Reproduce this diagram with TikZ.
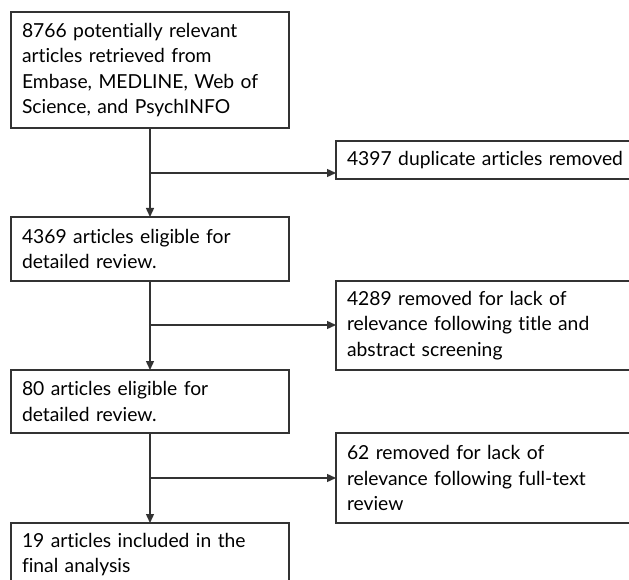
\documentclass[tikz,border=0pt]{standalone}
\usepackage{fontspec}
\setmainfont{Lato}[Ligatures=NoCommon]
\usetikzlibrary{arrows.meta}
\begin{document}
\begin{tikzpicture}[x=1pt,y=-1pt,
  box/.style={draw=black!80, line width=1.2pt, anchor=north west, align=left,
    outer sep=0pt, inner xsep=11pt, inner ysep=0pt,
    font=\fontsize{19.3}{25.5}\selectfont},
  lbox/.style={box, minimum width=278pt, text width=256pt},
  rbox/.style={box, minimum width=320pt, text width=298pt},
  conn/.style={draw=black!80, line width=1.4pt},
  arr/.style={conn, -{Triangle[length=9pt,width=8pt]}}]
\useasboundingbox (0,0) rectangle (629,580);
\clip (0,0) rectangle (629,580);
\node[lbox, minimum height=116pt] (b1) at (11,12)
  {8766 potentially relevant\\articles retrieved from\\Embase, MEDLINE, Web of\\Science, and PsychINFO};
\node[rbox, minimum height=38pt] (b2) at (336,141)
  {4397 duplicate articles removed};
\node[lbox, minimum height=64pt] (b3) at (11,217)
  {4369 articles eligible for\\detailed review.};
\node[rbox, minimum height=89pt] (b4) at (336,281)
  {4289 removed for lack of\\relevance following title and\\abstract screening};
\node[lbox, minimum height=63pt] (b5) at (11,370)
  {80 articles eligible for\\detailed review.};
\node[rbox, minimum height=90pt] (b6) at (336,433)
  {62 removed for lack of\\relevance following full-text\\review};
\node[lbox, minimum height=63pt] (b7) at (11,523)
  {19 articles included in the\\final analysis};
\coordinate (j1) at (150,173);
\coordinate (j2) at (150,325);
\coordinate (j3) at (150,478);
\draw[arr] (b1.south) -- (b3.north);
\draw[arr] (b3.south) -- (b5.north);
\draw[arr] (b5.south) -- (b7.north);
\draw[arr] (j1) -- (j1 -| b2.west);
\draw[arr] (j2) -- (j2 -| b4.west);
\draw[arr] (j3) -- (j3 -| b6.west);
\end{tikzpicture}
\end{document}
